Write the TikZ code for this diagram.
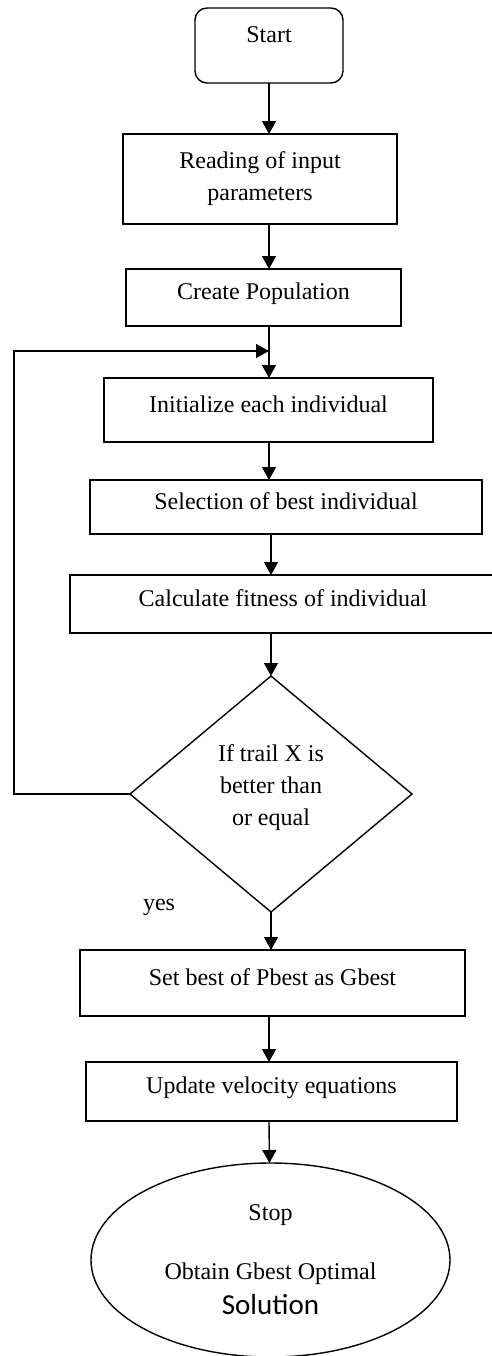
\documentclass[tikz,border=0pt]{standalone}
\usepackage{fontspec}
\setmainfont{Liberation Serif}
\newfontfamily\calibrifont{Carlito}
\usetikzlibrary{shapes, arrows.meta, positioning}

\begin{document}
\begin{tikzpicture}[x=0.5pt, y=-0.5pt,
    block/.style={rectangle, draw, line width=0.7pt, outer sep=0pt, text height=8.4pt, text depth=6pt, font=\fontsize{12}{16}\selectfont},
    twoline/.style={rectangle, draw, line width=0.7pt, outer sep=0pt, align=center, font=\fontsize{12}{16}\selectfont},
    decision/.style={diamond, draw, line width=0.7pt, outer sep=0pt, align=center, inner sep=0pt, text depth=9.25pt, font=\fontsize{12}{16}\selectfont},
    terminal/.style={ellipse, draw, line width=0.7pt, outer sep=0pt, align=center, inner sep=0pt, font=\fontsize{12}{16}\selectfont},
    arrow/.style={line width=0.7pt,->,>={Triangle[length=6.5pt,width=7pt]}}]
    \useasboundingbox (0,0) rectangle (492,1356);
    \node [block, rounded corners=6pt, minimum width=74pt, minimum height=37.5pt, text depth=11pt] (start) at (269,45.5) {Start};
    \node [twoline, minimum width=137pt, minimum height=45pt, below=25.5pt of start, xshift=-4.5pt] (read) {Reading of input\\parameters};
    \node [block, minimum width=137.5pt, minimum height=28.5pt, below=22.5pt of read, xshift=1.75pt] (create) {Create Population};
    \node [block, minimum width=164.5pt, minimum height=32pt, below=26pt of create, xshift=2.5pt] (init) {Initialize each individual};
    \node [block, minimum width=196pt, minimum height=27pt, below=19pt of init, xshift=8.75pt] (sel) {Selection of best individual};
    \node [block, minimum width=213pt, minimum height=29pt, below=20.5pt of sel, xshift=-1.5pt] (calc) {Calculate fitness of individual};
    \node [decision, minimum width=141pt, minimum height=118pt, below=21.5pt of calc, xshift=-6pt] (cond) {If trail X is\\better than\\or equal};
    \node [block, minimum width=192.5pt, minimum height=33pt, below=19pt of cond, xshift=0.75pt] (set) {Set best of Pbest as Gbest};
    \node [block, minimum width=185.5pt, minimum height=29.5pt, below=23pt of set, xshift=-0.5pt] (upd) {Update velocity equations};
    \node [terminal, minimum width=179.5pt, minimum height=97pt, below=21pt of upd, xshift=-0.5pt] (stop) {Stop\\[13.5pt]Obtain Gbest Optimal\\[1.5pt]{\calibrifont\fontsize{14.5}{17}\selectfont Solution}};
    \node [anchor=base, font=\fontsize{12}{16}\selectfont] (yes) at (159,910) {yes};
    \coordinate (merge) at (269,351);
    \coordinate (back) at (14,351);
    \draw [arrow] (start) -- (read.north -| start);
    \draw [arrow] (read.south -| start) -- (create.north -| start);
    \draw [arrow] (create.south -| start) -- (init.north -| start);
    \draw [arrow] (init.south -| start) -- (sel.north -| start);
    \draw [arrow] (sel.south -| cond) -- (calc.north -| cond);
    \draw [arrow] (calc.south -| cond) -- (cond);
    \draw [arrow] (cond) -- (set.north -| cond);
    \draw [arrow] (set.south -| start) -- (upd.north -| start);
    \draw [arrow] (upd.south -| start) -- (stop);
    \draw [arrow] (cond.west) -| (back) -- (merge);
\end{tikzpicture}
\end{document}
